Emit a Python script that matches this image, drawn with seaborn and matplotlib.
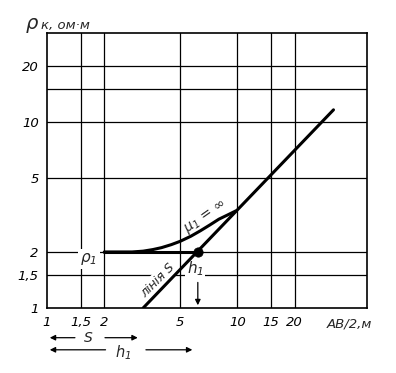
import numpy as np
import pandas as pd
import seaborn as sns
import matplotlib
matplotlib.use("Agg")
import matplotlib.pyplot as plt
import matplotlib.transforms as mtransforms

# ---- data ----
x_ticks = [1, 1.5, 2, 5, 10, 15, 20]
x_tick_labels = ["1", "1,5", "2", "5", "10", "15", "20"]
y_ticks = [1, 1.5, 2, 5, 10, 20]
y_tick_labels = ["1", "1,5", "2", "5", "10", "20"]
x_grid = [1.5, 2, 5, 10, 15, 20]
y_grid = [1.5, 2, 5, 10, 15, 20]

# asymptote "line S"
line_s_x = [3.2, 32.0]
line_s_y = [1.0, 11.6]

# curve mu1 = infinity
curve_x = [2.0, 2.5, 2.8, 3.2, 3.6, 4.0, 4.5, 5.0, 5.7, 6.4, 7.2, 8.0, 9.0, 9.8]
curve_y = [2.0, 2.0, 2.0, 2.02, 2.06, 2.11, 2.19, 2.28, 2.43, 2.6, 2.8, 3.0, 3.18, 3.32]

# rho1 level
rho1_x = [2.0, 6.2]
rho1_y = [2.0, 2.0]

# h1 point
h1_x = [6.2]
h1_y = [2.0]

S_value = 3.1
h1_value = 6.0

sns.set_style("white")
plt.rcParams["font.family"] = ["DejaVu Sans"]
plt.rcParams["font.style"] = "italic"

fig = plt.figure(figsize=(3.96, 3.73), dpi=100)
ax = fig.add_axes([47 / 396, 1 - 308 / 373, 320 / 396, 275 / 373])

ax.set_xscale("log")
ax.set_yscale("log")
ax.set_xlim(1, 48)
ax.set_ylim(1, 30)

# grid
for gx in x_grid:
    ax.axvline(gx, color="black", lw=0.9, zorder=1)
for gy in y_grid:
    ax.axhline(gy, color="black", lw=0.9, zorder=1)

df_line = pd.DataFrame({"x": line_s_x, "y": line_s_y})
df_curve = pd.DataFrame({"x": curve_x, "y": curve_y})
df_rho = pd.DataFrame({"x": rho1_x, "y": rho1_y})
sns.lineplot(data=df_line, x="x", y="y", ax=ax, color="black", lw=2.2,
             estimator=None, sort=False, zorder=3)
sns.lineplot(data=df_curve, x="x", y="y", ax=ax, color="black", lw=2.2,
             estimator=None, sort=False, zorder=3)
sns.lineplot(data=df_rho, x="x", y="y", ax=ax, color="black", lw=2.2,
             estimator=None, sort=False, zorder=3)
sns.scatterplot(x=h1_x, y=h1_y, ax=ax, color="black", s=45, zorder=4,
                edgecolor="black")

ax.set_xticks(x_ticks)
ax.set_xticklabels(x_tick_labels, fontsize=9.5, style="italic")
ax.set_yticks(y_ticks)
ax.set_yticklabels(y_tick_labels, fontsize=9.5, style="italic")
ax.xaxis.set_minor_locator(matplotlib.ticker.NullLocator())
ax.yaxis.set_minor_locator(matplotlib.ticker.NullLocator())
ax.tick_params(axis="both", length=0, pad=6, colors="black")
ax.set_xlabel("")
ax.set_ylabel("")
for sp in ax.spines.values():
    sp.set_color("black")
    sp.set_linewidth(1.2)
    sp.set_visible(True)

# labels in the plot
ax.text(1.66, 1.84, "ρ$_1$", fontsize=11, ha="center", va="center",
        style="italic", zorder=2,
        bbox=dict(facecolor="white", edgecolor="none", pad=1.5))
ax.text(6.8, 3.1, "μ$_1$ = ∞", fontsize=10, ha="center", va="center",
        rotation=35, style="italic", zorder=5)
ax.text(3.8, 1.41, "лінія S", fontsize=9, ha="center", va="center",
        rotation=45, style="italic", zorder=2,
        bbox=dict(facecolor="white", edgecolor="none", pad=1.0))
ax.text(6.0, 1.63, "h$_1$", fontsize=11, ha="center", va="center",
        style="italic", zorder=2,
        bbox=dict(facecolor="white", edgecolor="none", pad=1.0))
ax.annotate("", xy=(h1_x[0], 1.0), xytext=(h1_x[0], 1.42),
            arrowprops=dict(arrowstyle="-|>", color="black", lw=0.9,
                            mutation_scale=8), zorder=5)

# x axis title
trans = mtransforms.blended_transform_factory(ax.transData, ax.transAxes)
ax.text(39, -0.035, "AB/2,м", transform=trans, fontsize=9.5, ha="center",
        va="top", style="italic")

# S and h1 arrows below axis
ys, yh = -0.108, -0.152
ax.annotate("", xy=(1.0, ys), xytext=(1.45, ys), xycoords=trans, textcoords=trans,
            arrowprops=dict(arrowstyle="-|>", color="black", lw=0.9, mutation_scale=8),
            annotation_clip=False)
ax.text(1.65, ys, "S", transform=trans, fontsize=10, ha="center", va="center",
        style="italic")
ax.annotate("", xy=(S_value, ys), xytext=(1.95, ys), xycoords=trans, textcoords=trans,
            arrowprops=dict(arrowstyle="-|>", color="black", lw=0.9, mutation_scale=8),
            annotation_clip=False)
ax.annotate("", xy=(1.0, yh), xytext=(2.1, yh), xycoords=trans, textcoords=trans,
            arrowprops=dict(arrowstyle="-|>", color="black", lw=0.9, mutation_scale=8),
            annotation_clip=False)
ax.text(2.5, yh - 0.01, "h$_1$", transform=trans, fontsize=10.5, ha="center",
        va="center", style="italic")
ax.annotate("", xy=(h1_value, yh), xytext=(3.2, yh), xycoords=trans, textcoords=trans,
            arrowprops=dict(arrowstyle="-|>", color="black", lw=0.9, mutation_scale=8),
            annotation_clip=False)

# y axis title
fig.text(26 / 396, 1 - 29 / 373, "ρ", fontsize=14, style="italic", ha="left",
         va="baseline")
fig.text(41 / 396, 1 - 29 / 373, "к, ом·м", fontsize=9.5, style="italic",
         ha="left", va="baseline")

fig.savefig("out.png", dpi=100)
